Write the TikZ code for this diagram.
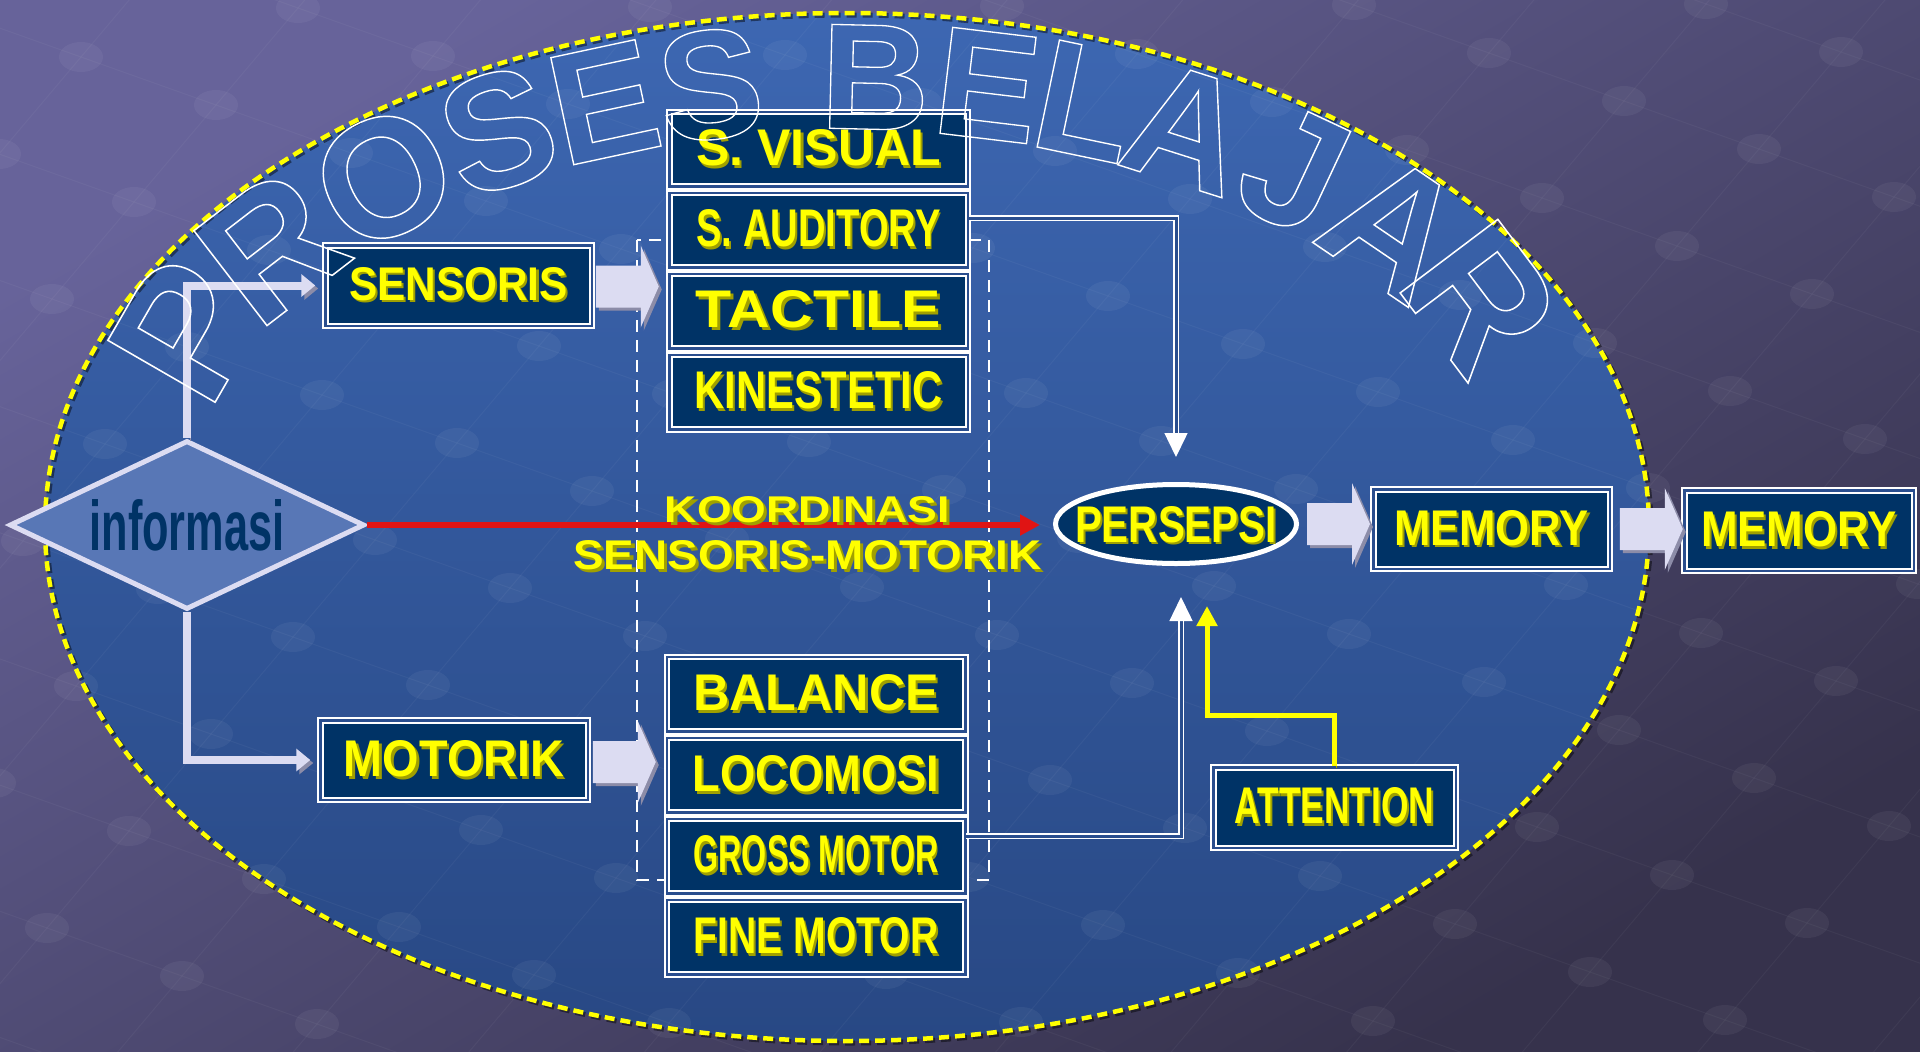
\documentclass[tikz,border=0pt]{standalone}
\usepackage{fontspec}
\usepackage{graphicx}
\setsansfont{Liberation Sans}
\newfontfamily\ttlfont{Liberation Sans}
\usetikzlibrary{arrows.meta,positioning,shapes.geometric,calc}

\definecolor{bgtop}{HTML}{67639A}
\definecolor{bgbot}{HTML}{36324C}
\definecolor{elltop}{HTML}{3D67B2}
\definecolor{ellbot}{HTML}{284884}
\definecolor{boxnavy}{HTML}{003366}
\definecolor{boxgap}{HTML}{2A4E8E}
\definecolor{yel}{HTML}{FFFF00}
\definecolor{yshadow}{HTML}{A0A000}
\definecolor{lav}{HTML}{DCDCF2}
\definecolor{lavshadow}{HTML}{8C8CA8}
\definecolor{diafill}{HTML}{5877B6}
\definecolor{redline}{HTML}{E01414}

% yellow label with its olive shadow, fitted to width x cap height
\newcommand{\ylbl}[3]{\resizebox{#1pt}{#2pt}{\rlap{\kern2.5pt\raisebox{-2.5pt}{\color{yshadow}#3}}#3}}
% outlined letters
\newcommand{\outl}[1]{\special{pdf:literal direct 1 Tr 1.3 w}#1\special{pdf:literal direct 0 Tr}}

\begin{document}
\begin{tikzpicture}[x=1pt, y=-1pt, >={Triangle[length=20pt,width=22pt]}, node distance=81pt,
    lblbox/.style={draw=white, line width=2pt, double=boxgap, double distance=2.5pt,
        fill=boxnavy, inner sep=0pt, text=yel, font=\sffamily\bfseries\fontsize{50}{56}\selectfont},
    colbox/.style={lblbox, minimum width=298.5, minimum height=74.5},
    lavline/.style={draw=lav, line width=8pt, ->, >={Triangle[length=14pt,width=22pt]}, shorten >=9pt,
        preaction={draw=lavshadow, transform canvas={shift={(3pt,-3pt)}}}},
    yelline/.style={draw=yel, line width=5pt, ->, >={Triangle[length=20pt,width=20pt]},
        preaction={draw=yshadow, transform canvas={shift={(2pt,-2pt)}}}},
    dblline/.style={draw=white, line width=1.5pt, double=boxgap, double distance=3pt, ->,
        >={Triangle[length=24pt,width=23pt]}},
    redarr/.style={draw=redline, line width=6pt, ->, >={Triangle[length=20pt,width=20pt]}},
    ttlchar/.style={text=white, inner sep=0pt, font=\ttlfont\bfseries\fontsize{150}{150}\selectfont},
    fatarr/.pic={
        \fill[lavshadow, shift={(3,3)}] (0,-21) -- (45,-21) -- (45,-41) -- (63,0) -- (45,41) -- (45,21) -- (0,21) -- cycle;
        \fill[lav] (0,-21) -- (45,-21) -- (45,-41) -- (63,0) -- (45,41) -- (45,21) -- (0,21) -- cycle;
    }]
    \useasboundingbox (0,0) rectangle (1920,1052);

    % Background
    \shade[top color=bgtop, bottom color=bgbot, shading angle=30] (0,0) rectangle (1920,1052);
    \shade[top color=elltop, bottom color=ellbot] (847,527) ellipse [x radius=802, y radius=514];
    \begin{scope}
        \clip (0,0) rectangle (1920,1052);
        \foreach \i in {0,...,16}
            \draw[white, opacity=0.04, line width=1pt] ({\i*135-8*82-300},{\i*48+8*97+300}) -- ({\i*135+10*82-300},{\i*48-10*97+300});
        \foreach \j in {-8,...,10}
            \draw[white, opacity=0.04, line width=1pt] ({\j*82-300},{-\j*97+300}) -- ({16*135+\j*82-300},{16*48-\j*97+300});
        \foreach \i in {0,...,16}
            \foreach \j in {-8,...,10}
                \fill[white, opacity=0.05] ({\i*135+\j*82-300},{\i*48-\j*97+300}) ellipse [x radius=22, y radius=15];
    \end{scope}
    \draw[black, opacity=0.45, line width=5pt, dash pattern=on 10pt off 6pt, shift={(2,2)}] (847,527) ellipse [x radius=802, y radius=514];
    \draw[yel, line width=4.5pt, dash pattern=on 10pt off 6pt] (847,527) ellipse [x radius=802, y radius=514];
    \draw[white, line width=2pt, dash pattern=on 12pt off 8pt] (637,240) rectangle (989,880);

    % Nodes
    \node [diamond, shape aspect=2, draw=lav, line width=5pt, fill=diafill, minimum width=355, minimum height=169,
        inner sep=0pt, text=boxnavy, font=\sffamily\bfseries\fontsize{60}{60}\selectfont]
                                    (info)  at (187,525)      {\resizebox{195pt}{51pt}{informasi}};
    \node [lblbox, minimum width=266.5, minimum height=80.5] (sens) at (458.5,285.5) {\ylbl{219}{33}{SENSORIS}};
    \node [lblbox, minimum width=267.5, minimum height=79.5] (mot)  at (454,760)     {\ylbl{220}{36}{MOTORIK}};
    \node [colbox]                  (svis)  at (818.5,149)    {\ylbl{245}{36}{S. VISUAL}};
    \node [colbox]                  (saud)  [below of=svis]   {\ylbl{244}{37}{S. AUDITORY}};
    \node [colbox]                  (tact)  [below of=saud]   {\ylbl{245}{37}{TACTILE}};
    \node [colbox]                  (kin)   [below of=tact]   {\ylbl{248}{37}{KINESTETIC}};
    \node [colbox]                  (bal)   at (816,694)      {\ylbl{246}{36}{BALANCE}};
    \node [colbox]                  (loc)   [below of=bal]    {\ylbl{247}{36}{LOCOMOSI}};
    \node [colbox]                  (gross) [below of=loc]    {\ylbl{245}{37}{GROSS MOTOR}};
    \node [colbox]                  (fine)  [below of=gross]  {\ylbl{245}{36}{FINE MOTOR}};
    \node [ellipse, draw=white, line width=5pt, fill=boxnavy, minimum width=241, minimum height=79, inner sep=0pt,
        text=yel, font=\sffamily\bfseries\fontsize{50}{56}\selectfont]
                                    (pers)  at (1176,524)     {\raisebox{-18pt}[0pt][0pt]{\makebox[0pt]{\ylbl{202}{36}{PERSEPSI}}}};
    \node [lblbox, minimum width=236.5, minimum height=79.5] (mem1) at (1491.5,529)  {\ylbl{195}{35}{MEMORY}};
    \node [lblbox, minimum width=229.5, minimum height=80.5] (mem2) at (1799,530.5)  {\ylbl{196}{35}{MEMORY}};
    \node [lblbox, minimum width=242.5, minimum height=80.5] (att)  at (1334.5,807.5) {\ylbl{200}{36}{ATTENTION}};

    % Paths
    \path [lavline] (info.north) |- (sens.west);
    \path [lavline] (info.south) |- (mot.west);
    \path [dblline, shorten >=25pt] ([yshift=12pt]saud.east) -| (pers.north);
    \path [dblline, shorten >=31pt] ([yshift=20pt]gross.east) -| ([xshift=5pt]pers.south);
    \path [yelline, shorten >=40pt] (att.north) -- ++(0,-51) -| ([xshift=31pt]pers.south);
    \path [redarr, shorten >=13pt] (info.east) -- node [pos=0.642, yshift=-10pt, align=center, text=yel,
        font=\sffamily\bfseries\fontsize{36}{43}\selectfont] (koord)
        {\ylbl{285}{26}{KOORDINASI}\\[4pt]\ylbl{468}{29}{SENSORIS-MOTORIK}} (info.east -| pers.west);
    \pic (sensarr) at ($(sens.east)+(3,1)$) {fatarr};
    \pic (motarr)  at ($(mot.east)+(4,2)$)  {fatarr};
    \pic (persarr) at ($(pers.east)+(8,0)$) {fatarr};
    \pic (memarr)  at ($(mem1.east)+(9,0)$) {fatarr};

    % Title (letters grow towards both ends of the arch)
    \foreach \ch/\t/\r [count=\i] in {P/154/60,R/141.5/37.6,O/129/26.3,S/118.3/18.2,E/109.3/12.1,S/100.7/6.6,
            B/87.8/-1.3,E/79/-6.8,L/71.1/-11.8,A/62.5/-17.6,J/52.6/-25.1,A/42/-34.2,R/30.6/-53}{
        \pgfmathsetmacro\sc{1+0.2*abs(\t-90)/64}
        \node [ttlchar, rotate=\r] (ttl\i) at ({847+736*cos(\t)},{527-450*sin(\t)}) {\scalebox{\sc}{\outl{\ch}}};
    }
\end{tikzpicture}
\end{document}
